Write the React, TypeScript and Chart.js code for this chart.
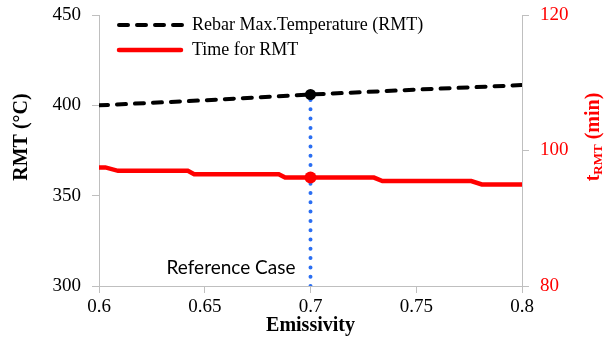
import React, { useEffect, useRef } from "react";
import { Chart, registerables } from "chart.js";

Chart.register(...registerables);

const rmtX = [0.6, 0.65, 0.7, 0.75, 0.8];
const rmtY = [400, 402.8, 406, 408.7, 411.2];

const timeX = [0.6, 0.603, 0.609, 0.642, 0.645, 0.685, 0.688, 0.73, 0.734, 0.776, 0.781, 0.8];
const timeY = [97.5, 97.5, 97.0, 97.0, 96.5, 96.5, 96.0, 96.0, 95.5, 95.5, 95.0, 95.0];

const refX = 0.7;
const refRMT = 406;
const refTime = 96.0;
const refLineBottom = 300;

const legendLabels = ["Rebar Max.Temperature (RMT)", "Time for RMT"];
const refLabel = "Reference Case";

const SERIF = "'Liberation Serif', 'Times New Roman', serif";

export default function App() {
  const ref = useRef<HTMLCanvasElement | null>(null);
  useEffect(() => {
    document.body.style.margin = "0";
    const canvas = ref.current!;
    const overlay = {
      id: "overlay",
      afterDraw(chart: any) {
        const ctx = chart.ctx as CanvasRenderingContext2D;
        const xs = chart.scales.x;
        const ys = chart.scales.y;
        ctx.save();
        // Legend
        const lx0 = 117, lx1 = 183;
        ctx.lineWidth = 4;
        ctx.strokeStyle = "#000";
        ctx.lineCap = "round";
        ctx.setLineDash([9, 9]);
        ctx.beginPath();
        ctx.moveTo(lx0 + 2, 25);
        ctx.lineTo(lx1, 25);
        ctx.stroke();
        ctx.setLineDash([]);
        ctx.strokeStyle = "#ff0000";
        ctx.lineWidth = 4.5;
        ctx.beginPath();
        ctx.moveTo(lx0 + 2, 50);
        ctx.lineTo(lx1 - 2, 50);
        ctx.stroke();
        ctx.fillStyle = "#000";
        ctx.font = `18px ${SERIF}`;
        ctx.textAlign = "left";
        ctx.textBaseline = "middle";
        ctx.fillText(legendLabels[0], 192, 25);
        ctx.fillText(legendLabels[1], 192, 50);

        // Reference case label
        ctx.font = "19px Lato, 'Open Sans', sans-serif";
        ctx.textAlign = "right";
        ctx.fillText(refLabel, xs.getPixelForValue(refX) - 15, ys.getPixelForValue(310));

        // Axis titles
        ctx.font = `bold 20px ${SERIF}`;
        ctx.textAlign = "center";
        ctx.fillText("Emissivity", xs.getPixelForValue(0.7), 326);

        ctx.save();
        ctx.translate(22, 137);
        ctx.rotate(-Math.PI / 2);
        ctx.fillText("RMT (°C)", 0, 0);
        ctx.restore();

        // Right title with subscript
        ctx.save();
        ctx.translate(594, 137);
        ctx.rotate(-Math.PI / 2);
        ctx.fillStyle = "#ff0000";
        const big = `bold 20px ${SERIF}`;
        const small = `bold 13px ${SERIF}`;
        ctx.font = big;
        const wT = ctx.measureText("t").width;
        const wRest = ctx.measureText(" (min)").width;
        ctx.font = small;
        const wSub = ctx.measureText("RMT").width;
        const total = wT + wSub + wRest;
        let cx = -total / 2;
        ctx.textAlign = "left";
        ctx.font = big;
        ctx.fillText("t", cx, 0);
        cx += wT;
        ctx.font = small;
        ctx.fillText("RMT", cx, 5);
        cx += wSub;
        ctx.font = big;
        ctx.fillText(" (min)", cx, 0);
        ctx.restore();

        ctx.restore();
      },
    };

    const axisGrey = "#bfbfbf";
    const fitV = (w: number) => (s: any) => {
      s.width = w;
      s.paddingTop = 0;
      s.paddingBottom = 0;
    };
    const chart = new Chart(canvas, {
      type: "line",
      data: {
        datasets: [
          {
            label: "ref",
            data: [
              { x: refX, y: refLineBottom },
              { x: refX, y: refRMT },
            ],
            yAxisID: "y",
            borderColor: "#2a6ef2",
            borderWidth: 4,
            borderDash: [0, 9.3],
            borderCapStyle: "round",
            pointRadius: 0,
            order: 5,
          },
          {
            label: legendLabels[0],
            data: rmtX.map((x, i) => ({ x, y: rmtY[i] })),
            yAxisID: "y",
            borderColor: "#000",
            borderWidth: 4,
            borderDash: [9, 9],
            borderCapStyle: "round",
            pointRadius: 0,
            order: 3,
          },
          {
            label: legendLabels[1],
            data: timeX.map((x, i) => ({ x, y: timeY[i] })),
            yAxisID: "y1",
            borderColor: "#ff0000",
            borderWidth: 4.5,
            pointRadius: 0,
            order: 4,
          },
          {
            label: "refRMT",
            data: [{ x: refX, y: refRMT }],
            yAxisID: "y",
            showLine: false,
            pointRadius: 5.5,
            pointBackgroundColor: "#000",
            pointBorderWidth: 0,
            order: 1,
          },
          {
            label: "refTime",
            data: [{ x: refX, y: refTime }],
            yAxisID: "y1",
            showLine: false,
            pointRadius: 6,
            pointBackgroundColor: "#ff0000",
            pointBorderWidth: 0,
            order: 2,
          },
        ],
      },
      options: {
        animation: false,
        responsive: false,
        maintainAspectRatio: false,
        layout: { padding: { top: 15, left: 0, right: 0, bottom: 0 } },
        plugins: { legend: { display: false }, tooltip: { enabled: false } },
        scales: {
          x: {
            type: "linear",
            min: 0.6,
            max: 0.8,
            ticks: {
              stepSize: 0.05,
              color: "#000",
              font: { family: SERIF, size: 19 },
              padding: 3,
              maxRotation: 0,
              callback: (v: any) => String(+Number(v).toFixed(2)),
            },
            grid: { display: true, drawOnChartArea: false, drawTicks: true, tickLength: 7, color: axisGrey },
            border: { color: axisGrey, width: 1 },
            afterFit: (s: any) => {
              s.height = 59;
              s.paddingLeft = 0;
              s.paddingRight = 0;
            },
          },
          y: {
            position: "left",
            min: 300,
            max: 450,
            ticks: { stepSize: 50, color: "#000", font: { family: SERIF, size: 19 }, padding: 11 },
            grid: { display: true, drawOnChartArea: false, drawTicks: true, tickLength: 7, color: axisGrey },
            border: { color: axisGrey, width: 1 },
            afterFit: fitV(99),
          },
          y1: {
            position: "right",
            min: 80,
            max: 120,
            ticks: { stepSize: 20, color: "#ff0000", font: { family: SERIF, size: 19 }, padding: 11 },
            grid: { display: true, drawOnChartArea: false, drawTicks: true, tickLength: 7, color: axisGrey },
            border: { color: axisGrey, width: 1 },
            afterFit: fitV(83),
          },
        },
      },
      plugins: [overlay],
    } as any);
    return () => chart.destroy();
  }, []);
  return (
    <div style={{ width: 605, height: 345 }}>
      <canvas ref={ref} width={605} height={345} style={{ display: "block" }} />
    </div>
  );
}
